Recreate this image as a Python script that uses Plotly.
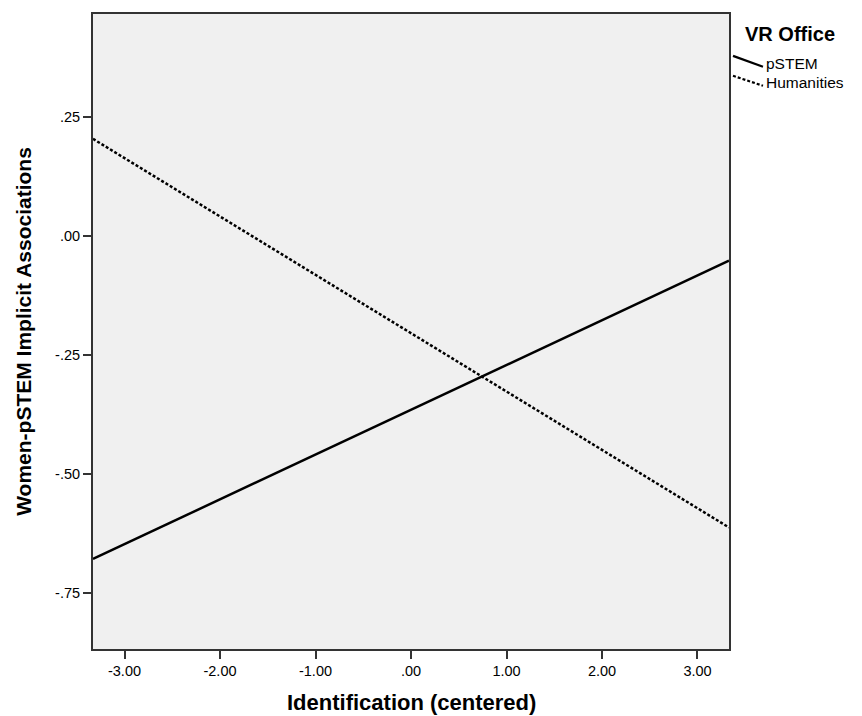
import plotly.graph_objects as go

# Data
x_ends = [-3.33, 3.33]
pstem_y = [-0.678, -0.052]
humanities_y = [0.2035, -0.612]
x_ticks = [-3, -2, -1, 0, 1, 2, 3]
x_tick_labels = ["-3.00", "-2.00", "-1.00", ".00", "1.00", "2.00", "3.00"]
y_ticks = [0.25, 0.0, -0.25, -0.5, -0.75]
y_tick_labels = [".25", ".00", "-.25", "-.50", "-.75"]
legend_title = "VR Office"
series_names = ["pSTEM", "Humanities"]
x_title = "Identification (centered)"
y_title = "Women-pSTEM Implicit Associations"

fig = go.Figure()
fig.add_trace(go.Scatter(x=x_ends, y=pstem_y, mode="lines", name=series_names[0],
                         line=dict(color="#000000", width=2.5), showlegend=False))
fig.add_trace(go.Scatter(x=x_ends, y=humanities_y, mode="lines", name=series_names[1],
                         line=dict(color="#000000", width=2.5, dash="3px,2px"), showlegend=False))

OFF = 8  # page body margin
W, H = 862 - OFF, 716 - OFF
ml, mt = 93 - OFF, 12 - OFF
mr = W - (729 - OFF)
mb = H - (649 - OFF)
pw = W - ml - mr
ph = H - mt - mb

def px_to_paper(px, py):
    # page pixel coords -> paper coords
    fx, fy = px - OFF, py - OFF
    return (fx - ml) / pw, (H - mb - fy) / ph

shapes = []
# Legend symbols (slanted, SPSS style)
for (x0, y0, x1, y1, dash) in [(733, 54, 763, 65, "solid"), (733, 74, 763, 84, "3px,2px")]:
    a = px_to_paper(x0, y0)
    b = px_to_paper(x1, y1)
    shapes.append(dict(type="line", xref="paper", yref="paper", x0=a[0], y0=a[1], x1=b[0], y1=b[1],
                       line=dict(color="#000000", width=2.2, dash=dash)))

annotations = []
tx, ty = px_to_paper(743, 32)
annotations.append(dict(text="<b>" + legend_title + "</b>", xref="paper", yref="paper", x=tx, y=ty,
                        xanchor="left", yanchor="middle", showarrow=False,
                        font=dict(family="Liberation Sans, Arial", size=20, color="#000000")))
for name, py in zip(series_names, [62, 81]):
    ax, ay = px_to_paper(764, py)
    annotations.append(dict(text=name, xref="paper", yref="paper", x=ax, y=ay,
                            xanchor="left", yanchor="middle", showarrow=False,
                            font=dict(family="Liberation Sans, Arial", size=15.5, color="#000000")))
xtx, xty = px_to_paper(411, 703)
annotations.append(dict(text="<b>" + x_title + "</b>", xref="paper", yref="paper", x=0.5, y=xty,
                        xanchor="center", yanchor="middle", showarrow=False,
                        font=dict(family="Liberation Sans, Arial", size=22, color="#000000")))

fig.update_layout(
    width=W, height=H,
    margin=dict(l=ml, r=mr, t=mt, b=mb),
    paper_bgcolor="#ffffff",
    plot_bgcolor="#f0f0f0",
    font=dict(family="Liberation Sans, Arial", size=14, color="#000000"),
    shapes=shapes,
    annotations=annotations,
    xaxis=dict(range=[-3.33, 3.33], tickvals=x_ticks, ticktext=x_tick_labels,
               ticks="outside", ticklen=8, tickwidth=2, tickcolor="#333333",
               showgrid=False, zeroline=False, showline=True, linecolor="#333333", linewidth=2,
               mirror=True,
               tickfont=dict(family="Liberation Sans, Arial", size=14.5)),
    yaxis=dict(range=[-0.867, 0.4655], tickvals=y_ticks, ticktext=y_tick_labels,
               ticks="outside", ticklen=8, tickwidth=2, tickcolor="#333333",
               showgrid=False, zeroline=False, showline=True, linecolor="#333333", linewidth=2,
               mirror=True,
               tickfont=dict(family="Liberation Sans, Arial", size=14.5),
               title=dict(text="<b>" + y_title + "</b>", standoff=18,
                          font=dict(family="Liberation Sans, Arial", size=21))),
)

fig.write_html("out.html")
